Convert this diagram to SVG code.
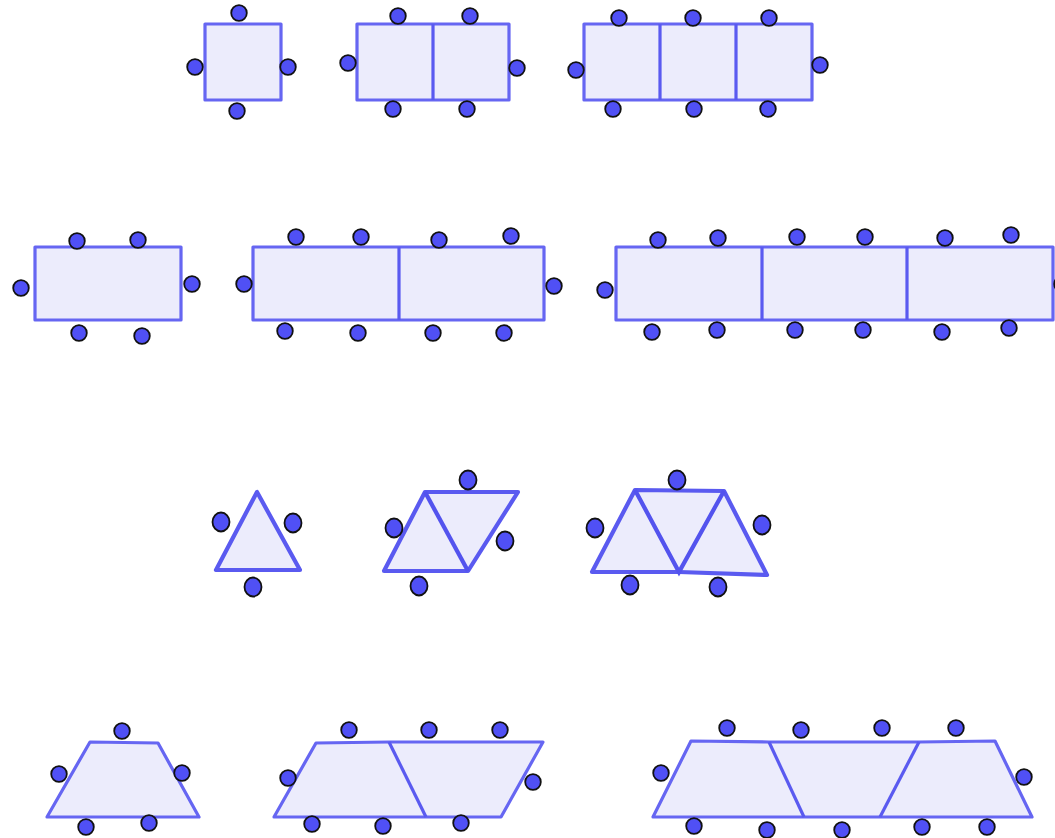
<svg xmlns="http://www.w3.org/2000/svg" width="1055" height="838" viewBox="0 0 1055 838">
<style>
.t{fill:#ececfc;stroke:#6666f2;stroke-width:3.2;stroke-linejoin:round}
.t4{fill:#ececfc;stroke:#5a5af0;stroke-width:4.2;stroke-linejoin:round}
.l{fill:none;stroke:#5a5af0;stroke-width:3.2}
.l4{fill:none;stroke:#5353ee;stroke-width:4.2}
.d{fill:#5050f5;stroke:#111;stroke-width:1.8}
</style>
<rect width="1055" height="838" fill="#fff"/>
<g id="sq1">
<rect class="t" x="205" y="24" width="76" height="76"/>
<circle class="d" cx="239" cy="13" r="7.8"/><circle class="d" cx="195" cy="67" r="7.8"/><circle class="d" cx="288" cy="67" r="7.8"/><circle class="d" cx="237" cy="111" r="7.8"/>
</g>
<g id="sq2">
<rect class="t" x="357" y="24" width="152" height="76"/>
<line class="l" x1="433" y1="24" x2="433" y2="100"/>
<circle class="d" cx="398" cy="16" r="7.8"/><circle class="d" cx="470" cy="16" r="7.8"/><circle class="d" cx="348" cy="63" r="7.8"/><circle class="d" cx="517" cy="68" r="7.8"/><circle class="d" cx="393" cy="109" r="7.8"/><circle class="d" cx="467" cy="109" r="7.8"/>
</g>
<g id="sq3">
<rect class="t" x="584" y="24" width="228" height="76"/>
<line class="l" x1="660" y1="24" x2="660" y2="100"/><line class="l" x1="736" y1="24" x2="736" y2="100"/>
<circle class="d" cx="619" cy="18" r="7.8"/><circle class="d" cx="693" cy="18" r="7.8"/><circle class="d" cx="769" cy="18" r="7.8"/><circle class="d" cx="576" cy="70" r="7.8"/><circle class="d" cx="820" cy="65" r="7.8"/><circle class="d" cx="613" cy="109" r="7.8"/><circle class="d" cx="694" cy="109" r="7.8"/><circle class="d" cx="768" cy="109" r="7.8"/>
</g>
<g id="rect1">
<rect class="t" x="35" y="247" width="146" height="73"/>
<circle class="d" cx="77" cy="241" r="7.8"/><circle class="d" cx="138" cy="240" r="7.8"/><circle class="d" cx="21" cy="288" r="7.8"/><circle class="d" cx="192" cy="284" r="7.8"/><circle class="d" cx="79" cy="333" r="7.8"/><circle class="d" cx="142" cy="336" r="7.8"/>
</g>
<g id="rect2">
<rect class="t" x="253" y="247" width="291" height="73"/>
<line class="l" x1="399" y1="247" x2="399" y2="320"/>
<circle class="d" cx="296" cy="237" r="7.8"/><circle class="d" cx="361" cy="237" r="7.8"/><circle class="d" cx="439" cy="240" r="7.8"/><circle class="d" cx="511" cy="236" r="7.8"/><circle class="d" cx="244" cy="284" r="7.8"/><circle class="d" cx="554" cy="286" r="7.8"/><circle class="d" cx="285" cy="331" r="7.8"/><circle class="d" cx="358" cy="333" r="7.8"/><circle class="d" cx="433" cy="333" r="7.8"/><circle class="d" cx="504" cy="333" r="7.8"/>
</g>
<g id="rect3">
<rect class="t" x="616" y="247" width="437" height="73"/>
<line class="l" x1="762" y1="247" x2="762" y2="320"/><line class="l" x1="907" y1="247" x2="907" y2="320"/>
<circle class="d" cx="658" cy="240" r="7.8"/><circle class="d" cx="718" cy="238" r="7.8"/><circle class="d" cx="797" cy="237" r="7.8"/><circle class="d" cx="865" cy="237" r="7.8"/><circle class="d" cx="945" cy="238" r="7.8"/><circle class="d" cx="1011" cy="235" r="7.8"/><circle class="d" cx="605" cy="290" r="7.8"/><circle class="d" cx="1062" cy="284" r="7.8"/><circle class="d" cx="652" cy="332" r="7.8"/><circle class="d" cx="717" cy="330" r="7.8"/><circle class="d" cx="795" cy="330" r="7.8"/><circle class="d" cx="863" cy="330" r="7.8"/><circle class="d" cx="942" cy="332" r="7.8"/><circle class="d" cx="1009" cy="328" r="7.8"/>
</g>
<g id="tri1">
<polygon class="t4" points="257,492 216,570 300,570"/>
<ellipse class="d" cx="221" cy="522" rx="8.5" ry="9.5"/><ellipse class="d" cx="293" cy="523" rx="8.5" ry="9.5"/><ellipse class="d" cx="253" cy="587" rx="8.5" ry="9.5"/>
</g>
<g id="tri2">
<polygon class="t4" points="425,492 518,492 468,571 384,571"/>
<line class="l4" x1="425" y1="492" x2="468" y2="571"/>
<ellipse class="d" cx="468" cy="480" rx="8.5" ry="9.5"/><ellipse class="d" cx="394" cy="528" rx="8.5" ry="9.5"/><ellipse class="d" cx="505" cy="541" rx="8.5" ry="9.5"/><ellipse class="d" cx="419" cy="586" rx="8.5" ry="9.5"/>
</g>
<g id="tri3">
<polygon class="t4" points="635,490 724,491 767,575 679,572 592,572"/>
<polyline class="l4" points="635,490 679,572 724,491"/>
<ellipse class="d" cx="677" cy="480" rx="8.5" ry="9.5"/><ellipse class="d" cx="595" cy="528" rx="8.5" ry="9.5"/><ellipse class="d" cx="762" cy="525" rx="8.5" ry="9.5"/><ellipse class="d" cx="630" cy="585" rx="8.5" ry="9.5"/><ellipse class="d" cx="718" cy="587" rx="8.5" ry="9.5"/>
</g>
<g id="trap1">
<polygon class="t" points="90,742 158,743 199,817 47,817"/>
<circle class="d" cx="122" cy="731" r="7.8"/><circle class="d" cx="59" cy="774" r="7.8"/><circle class="d" cx="182" cy="773" r="7.8"/><circle class="d" cx="86" cy="827" r="7.8"/><circle class="d" cx="149" cy="823" r="7.8"/>
</g>
<g id="trap2">
<polygon class="t" points="316,743 389,742 543,742 501,817 274,817"/>
<line class="l" x1="389" y1="742" x2="426" y2="817"/>
<circle class="d" cx="349" cy="730" r="7.8"/><circle class="d" cx="429" cy="730" r="7.8"/><circle class="d" cx="500" cy="730" r="7.8"/><circle class="d" cx="288" cy="778" r="7.8"/><circle class="d" cx="533" cy="782" r="7.8"/><circle class="d" cx="312" cy="824" r="7.8"/><circle class="d" cx="383" cy="826" r="7.8"/><circle class="d" cx="461" cy="823" r="7.8"/>
</g>
<g id="trap3">
<polygon class="t" points="691,741 769,742 919,742 995,741 1032,817 653,817"/>
<line class="l" x1="769" y1="742" x2="804" y2="817"/><line class="l" x1="919" y1="742" x2="880" y2="817"/>
<circle class="d" cx="727" cy="728" r="7.8"/><circle class="d" cx="801" cy="730" r="7.8"/><circle class="d" cx="882" cy="728" r="7.8"/><circle class="d" cx="956" cy="728" r="7.8"/><circle class="d" cx="661" cy="773" r="7.8"/><circle class="d" cx="1024" cy="777" r="7.8"/><circle class="d" cx="694" cy="826" r="7.8"/><circle class="d" cx="767" cy="830" r="7.8"/><circle class="d" cx="842" cy="830" r="7.8"/><circle class="d" cx="922" cy="827" r="7.8"/><circle class="d" cx="987" cy="827" r="7.8"/>
</g>
</svg>
